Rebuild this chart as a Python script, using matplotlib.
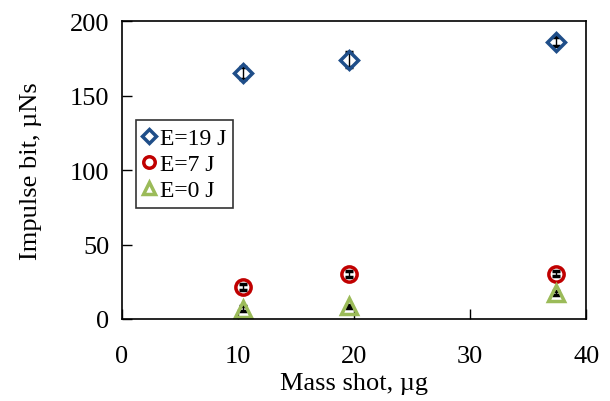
import matplotlib.pyplot as plt
from matplotlib.lines import Line2D

mass = [10.4, 19.6, 37.4]
imp_19 = [165, 174, 186]
err_19 = [4, 5, 3]
imp_7 = [21.5, 30, 30.5]
err_7 = [2, 2, 1.5]
imp_0 = [7, 8.5, 17.5]
err_0 = [1.5, 1, 1.5]

labels = ['E=19 J', 'E=7 J', 'E=0 J']
colors = ['#1F4E89', '#C00000', '#9BBB59']
markers = ['D', 'o', '^']
sizes = [9, 11, 11]

plt.rcParams['font.family'] = ['Liberation Serif', 'DejaVu Serif']

fig, ax = plt.subplots(figsize=(6.1, 4.02), dpi=100)
fig.subplots_adjust(left=0.2, right=0.961, top=0.945, bottom=0.204)

for y, e, c, m, s in zip([imp_19, imp_7, imp_0], [err_19, err_7, err_0],
                         colors, markers, sizes):
    ax.errorbar(mass, y, yerr=e, fmt=m, ms=s, mfc='none', mec=c, mew=2.5,
                ecolor='k', elinewidth=1, capsize=3)

ax.set_xlim(0, 40)
ax.set_ylim(0, 200)
ax.set_xticks([0, 10, 20, 30, 40])
ax.set_yticks([0, 50, 100, 150, 200])
ax.tick_params(direction='in', length=7, width=1, labelsize=19)
ax.tick_params(axis='x', pad=19)
ax.tick_params(axis='y', pad=9)
for sp in ax.spines.values():
    sp.set_linewidth(1.2)
ax.set_xlabel('Mass shot, µg', fontsize=19, labelpad=3)
ax.set_ylabel('Impulse bit, µNs', fontsize=19, labelpad=20)

handles = [Line2D([], [], ls='none', marker=m, ms=s * 0.75, mfc='none', mec=c, mew=2.5)
           for m, s, c in zip(markers, sizes, colors)]
leg = ax.legend(handles, labels, loc='upper left', bbox_to_anchor=(0.031, 0.667),
                fontsize=17, frameon=True, fancybox=False, edgecolor='k',
                handlelength=0.5, handletextpad=0.2, borderpad=0.3,
                labelspacing=0.2, borderaxespad=0)
leg.get_frame().set_linewidth(1.2)

fig.savefig('out.png', dpi=100)
